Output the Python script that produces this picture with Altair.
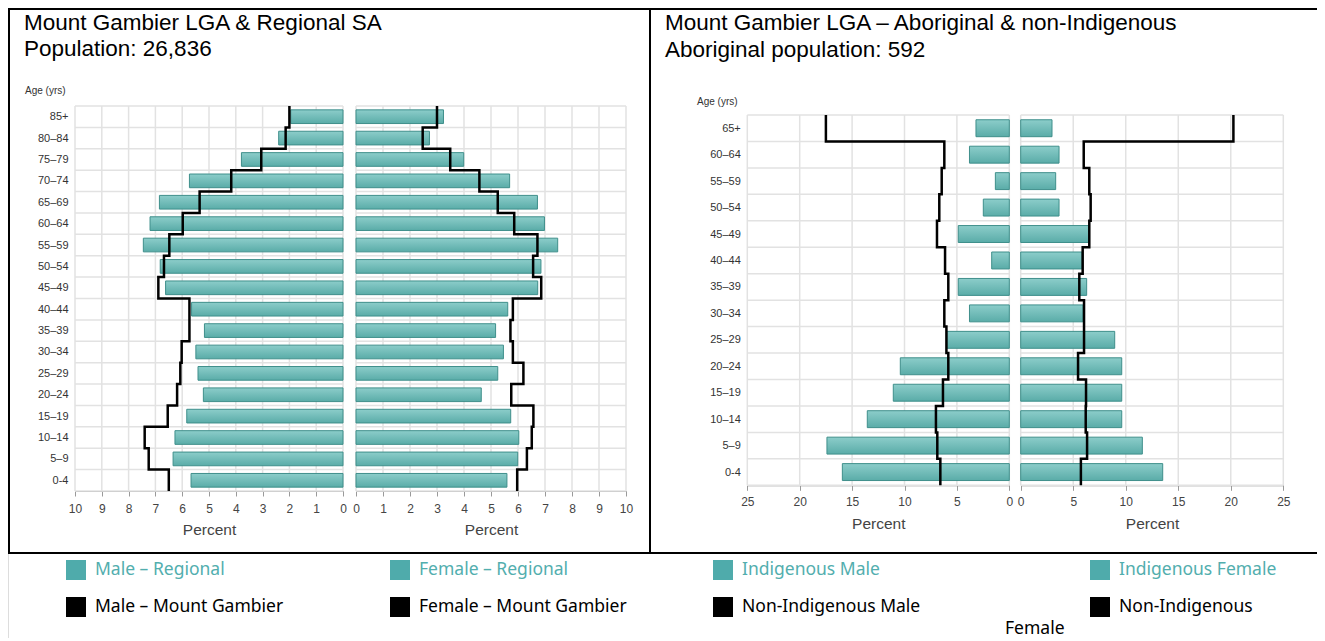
import json
import altair as alt
import pandas as pd

# ---------------- data (bottom row first) ----------------
AGES_L = ["0-4", "5–9", "10–14", "15–19", "20–24", "25–29", "30–34", "35–39", "40–44",
          "45–49", "50–54", "55–59", "60–64", "65–69", "70–74", "75–79", "80–84", "85+"]
MALE_REGIONAL = [5.67, 6.34, 6.27, 5.83, 5.21, 5.41, 5.49, 5.17, 5.65, 6.62, 6.82, 7.45, 7.20, 6.85, 5.73, 3.79, 2.40, 1.95]
MALE_MTG = [6.50, 7.25, 7.40, 6.54, 6.19, 6.07, 6.02, 5.73, 5.73, 6.89, 6.68, 6.48, 5.98, 5.35, 4.17, 3.05, 2.14, 2.00]
FEMALE_REGIONAL = [5.59, 5.99, 6.03, 5.73, 4.64, 5.25, 5.46, 5.17, 5.62, 6.73, 6.85, 7.47, 6.98, 6.72, 5.69, 3.99, 2.72, 3.24]
FEMALE_MTG = [5.97, 6.33, 6.51, 6.57, 5.75, 6.20, 5.81, 5.72, 5.81, 6.86, 6.56, 6.72, 5.86, 5.25, 4.57, 3.49, 2.47, 3.00]

AGES_R = ["0-4", "5–9", "10–14", "15–19", "20–24", "25–29", "30–34", "35–39", "40–44",
          "45–49", "50–54", "55–59", "60–64", "65+"]
IND_MALE = [15.93, 17.40, 13.55, 11.07, 10.40, 5.97, 3.80, 4.87, 1.68, 4.87, 2.48, 1.33, 3.80, 3.18]
NONIND_MALE = [6.58, 6.87, 7.00, 6.33, 5.82, 6.00, 6.20, 5.82, 6.13, 6.90, 6.68, 6.45, 6.20, 17.50]
IND_FEMALE = [13.52, 11.58, 9.62, 9.62, 9.62, 8.95, 5.93, 6.28, 5.84, 6.50, 3.65, 3.33, 3.65, 2.98]
NONIND_FEMALE = [5.73, 6.32, 6.19, 6.22, 5.46, 6.03, 6.03, 5.58, 5.90, 6.53, 6.66, 6.53, 6.00, 20.25]

TICKS_L = list(range(0, 11))
TICKS_R = [0, 5, 10, 15, 20, 25]

TITLE_L1 = "Mount Gambier LGA & Regional SA"
TITLE_L2 = "Population: 26,836"
TITLE_R1 = "Mount Gambier LGA – Aboriginal & non-Indigenous"
TITLE_R2 = "Aboriginal population: 592"

LEGEND = [
    ("Male – Regional", "#4fabab", "#52aeae", 0, 0),
    ("Female – Regional", "#4fabab", "#52aeae", 1, 0),
    ("Indigenous Male", "#4fabab", "#52aeae", 2, 0),
    ("Indigenous Female", "#4fabab", "#52aeae", 3, 0),
    ("Male – Mount Gambier", "#000000", "#000000", 0, 1),
    ("Female – Mount Gambier", "#000000", "#000000", 1, 1),
    ("Non-Indigenous Male", "#000000", "#000000", 2, 1),
    ("Non-Indigenous", "#000000", "#000000", 3, 1),
]

# ---------------- layout ----------------
W, H = 1309, 630
OX, OY = 8, 8


def px(x):
    return x - OX


def py(y):
    return y - OY


NARROW = "Liberation Sans Narrow, Arial Narrow, Liberation Sans, Arial, sans-serif"
ARIAL = "Liberation Sans, Arial, sans-serif"
LEGFONT = "Noto Sans, Open Sans, sans-serif"
GRID = "#e2e2e2"
AXC = "#9a9a9a"
LABC = "#444444"

FILL = alt.LinearGradient(
    gradient="linear",
    stops=[alt.GradientStop(color="#8ccdca", offset=0),
           alt.GradientStop(color="#5aaca8", offset=1)],
    x1=0, x2=0, y1=0, y2=1,
)


def sc(domain, rng):
    return alt.Scale(domain=domain, range=rng, nice=False, zero=False)


def x_axis(values, axis_y, labpad, titlepad):
    return alt.Axis(values=values, format="d", orient="bottom", offset=py(axis_y) - H,
                    grid=False, domainColor=AXC, tickColor=AXC, tickSize=5,
                    labelFont=NARROW, labelFontSize=12, labelColor=LABC, labelPadding=labpad,
                    labelFlush=False, labelOverlap=False,
                    title="Percent", titleFont=NARROW, titleFontSize=15.5,
                    titleFontWeight="normal", titleColor=LABC, titlePadding=titlepad)


def y_axis(n, ages, axis_x):
    arr = json.dumps(ages, ensure_ascii=False)
    return alt.Axis(values=[i + 0.5 for i in range(n)], orient="left", offset=-px(axis_x),
                    grid=False, domain=False, ticks=False, tickSize=0, labelPadding=7,
                    labelFont=NARROW, labelFontSize=11, labelColor="#333333",
                    labelExpr=f"{arr}[floor(datum.value)]", title=None, labelOverlap=False)


def half(values, line_values, xscale, yscale, n, ticks, xaxis=None, yaxis=None):
    layers = []
    vg = pd.DataFrame({"t": ticks, "y0": 0, "y1": n})
    layers.append(alt.Chart(vg).mark_rule(color=GRID, strokeWidth=1.5).encode(
        x=alt.X("t:Q", scale=xscale, axis=None),
        y=alt.Y("y0:Q", scale=yscale, axis=None), y2="y1:Q"))
    hg = pd.DataFrame({"b": list(range(n + 1)), "x0": ticks[0], "x1": ticks[-1]})
    layers.append(alt.Chart(hg).mark_rule(color=GRID, strokeWidth=1.5).encode(
        y=alt.Y("b:Q", scale=yscale, axis=None),
        x=alt.X("x0:Q", scale=xscale, axis=None), x2="x1:Q"))
    bd = pd.DataFrame({"v": values, "z": 0.0,
                       "lo": [i + 0.18 for i in range(n)],
                       "hi": [i + 0.82 for i in range(n)]})
    layers.append(alt.Chart(bd).mark_bar(fill=FILL, stroke="#3f8f8b", strokeWidth=1).encode(
        x=alt.X("v:Q", scale=xscale, axis=xaxis), x2="z:Q",
        y=alt.Y("lo:Q", scale=yscale, axis=yaxis), y2="hi:Q"))
    pts = []
    k = 0
    for i in range(n - 1, -1, -1):
        pts.append({"v": line_values[i], "y": i + 1, "k": k}); k += 1
        pts.append({"v": line_values[i], "y": i, "k": k}); k += 1
    layers.append(alt.Chart(pd.DataFrame(pts)).mark_line(color="#000000", strokeWidth=2.5).encode(
        x=alt.X("v:Q", scale=xscale, axis=None),
        y=alt.Y("y:Q", scale=yscale, axis=None),
        order=alt.Order("k:Q")))
    return layers


ONE = pd.DataFrame({"a": [1]})


def text(t, x, y, size, font, color="#000000", align="left"):
    return alt.Chart(ONE).mark_text(text=t, align=align, baseline="middle", fontSize=size,
                                    font=font, color=color).encode(
        x=alt.value(px(x)), y=alt.value(py(y)))


def hline(x0, x1, y):
    return alt.Chart(ONE).mark_rule(color="#000000", strokeWidth=2).encode(
        x=alt.value(px(x0)), x2=alt.value(px(x1)), y=alt.value(py(y)))


def vline(x, y0, y1):
    return alt.Chart(ONE).mark_rule(color="#000000", strokeWidth=2).encode(
        x=alt.value(px(x)), y=alt.value(py(y0)), y2=alt.value(py(y1)))


nL, nR = len(AGES_L), len(AGES_R)
yL = sc([0, nL], [py(491), py(106)])
yR = sc([0, nR], [py(485.3), py(115)])
xLM = sc([0, 10], [px(343), px(75)])
xLF = sc([0, 10], [px(356), px(626)])
xRM = sc([0, 25], [px(1009.3), px(747.3)])
xRF = sc([0, 25], [px(1020.7), px(1283.3)])

layers = []
layers += half(MALE_REGIONAL, MALE_MTG, xLM, yL, nL, TICKS_L,
               xaxis=x_axis(TICKS_L, 491, 7, 8), yaxis=y_axis(nL, AGES_L, 75))
layers += half(FEMALE_REGIONAL, FEMALE_MTG, xLF, yL, nL, TICKS_L,
               xaxis=x_axis(TICKS_L, 491, 7, 8))
layers += half(IND_MALE, NONIND_MALE, xRM, yR, nR, TICKS_R,
               xaxis=x_axis(TICKS_R, 485.3, 6, 9), yaxis=y_axis(nR, AGES_R, 747.3))
layers += half(IND_FEMALE, NONIND_FEMALE, xRF, yR, nR, TICKS_R,
               xaxis=x_axis(TICKS_R, 485.3, 6, 9))

layers += [
    text(TITLE_L1, 24, 23, 22.5, ARIAL),
    text(TITLE_L2, 24, 49, 22.5, ARIAL),
    text(TITLE_R1, 665, 23, 22.5, ARIAL),
    text(TITLE_R2, 665, 50, 22.5, ARIAL),
    text("Age (yrs)", 25, 91, 10, NARROW, "#333333"),
    text("Age (yrs)", 697, 102, 10, NARROW, "#333333"),
]

layers += [
    hline(8, 1319, 9),
    hline(8, 1319, 553),
    vline(9, 9, 553),
    vline(650, 9, 553),
    vline(1318, 9, 553),
]

COLS = [76, 400, 723, 1100]
ROWS = [570, 607]
for label, sq, tc, c, r in LEGEND:
    layers.append(alt.Chart(ONE).mark_square(size=400, color=sq, opacity=1).encode(
        x=alt.value(px(COLS[c])), y=alt.value(py(ROWS[r]))))
    layers.append(text(label, COLS[c] + 19, ROWS[r], 17.5, LEGFONT, tc))
layers.append(text("Female", 1005, 629, 17.5, LEGFONT, "#000000"))

chart = alt.layer(*layers).resolve_scale(x="independent", y="independent").resolve_axis(
    x="independent", y="independent").properties(
    width=W, height=H, autosize=alt.AutoSizeParams(type="none"), padding=0
).configure_view(stroke=None).configure(background="white")

chart.save("out.html", embed_options={"renderer": "svg", "actions": False})
